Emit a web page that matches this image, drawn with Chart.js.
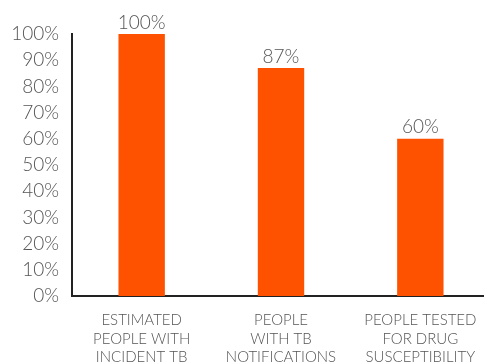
<!DOCTYPE html>
<html>
<head>
<meta charset="utf-8">
<script src="https://cdn.jsdelivr.net/npm/chart.js@4"></script>
<style>
  html, body { margin: 0; padding: 0; background: #fff; overflow: hidden; }
  canvas { display: block; }
</style>
</head>
<body>
<canvas id="c" width="490" height="362"></canvas>
<script>
var categories = [
	["ESTIMATED", "PEOPLE WITH", "INCIDENT TB"],
	["PEOPLE", "WITH TB", "NOTIFICATIONS"],
	["PEOPLE TESTED", "FOR DRUG", "SUSCEPTIBILITY"]
];
var values = [100, 87, 60];

var FONT = "Lato, 'Open Sans', sans-serif";
var GREY = "#555";

// prints the percentage just above each bar
var valueLabels = {
	id: "valueLabels",
	afterDatasetsDraw: function(chart) {
		var ctx = chart.ctx;
		var meta = chart.getDatasetMeta(0);
		ctx.save();
		ctx.font = "300 19px " + FONT;
		ctx.fillStyle = GREY;
		ctx.textAlign = "center";
		ctx.textBaseline = "bottom";
		meta.data.forEach(function(bar, i) {
			ctx.fillText(values[i] + "%", bar.x, bar.y - 2);
		});
		ctx.restore();
	}
};

new Chart(document.getElementById("c"), {
	type: "bar",
	data: {
		labels: categories,
		datasets: [{
			data: values,
			backgroundColor: "#ff5200",
			categoryPercentage: 1,
			barPercentage: 0.333
		}]
	},
	options: {
		responsive: false,
		animation: false,
		layout: { padding: { top: 34, right: 0, left: 0, bottom: 0 } },
		plugins: { legend: { display: false }, tooltip: { enabled: false } },
		scales: {
			y: {
				min: 0,
				max: 100,
				ticks: {
					stepSize: 10,
					padding: 13,
					color: GREY,
					font: { family: FONT, size: 19, weight: 300 },
					callback: function(v) { return v + "%"; }
				},
				grid: { display: false, drawTicks: false },
				border: { color: "#222", width: 2 },
				afterFit: function(scale) { scale.width = 72; }
			},
			x: {
				ticks: {
					padding: 15,
					color: GREY,
					maxRotation: 0,
					autoSkip: false,
					font: { family: FONT, size: 15, weight: 300, lineHeight: 1.23 }
				},
				grid: { display: false, drawTicks: false },
				border: { color: "#222", width: 2 },
				afterFit: function(scale) {
					scale.height = 66;
					scale.paddingRight = 0;
				}
			}
		}
	},
	plugins: [valueLabels]
});
</script>
</body>
</html>
